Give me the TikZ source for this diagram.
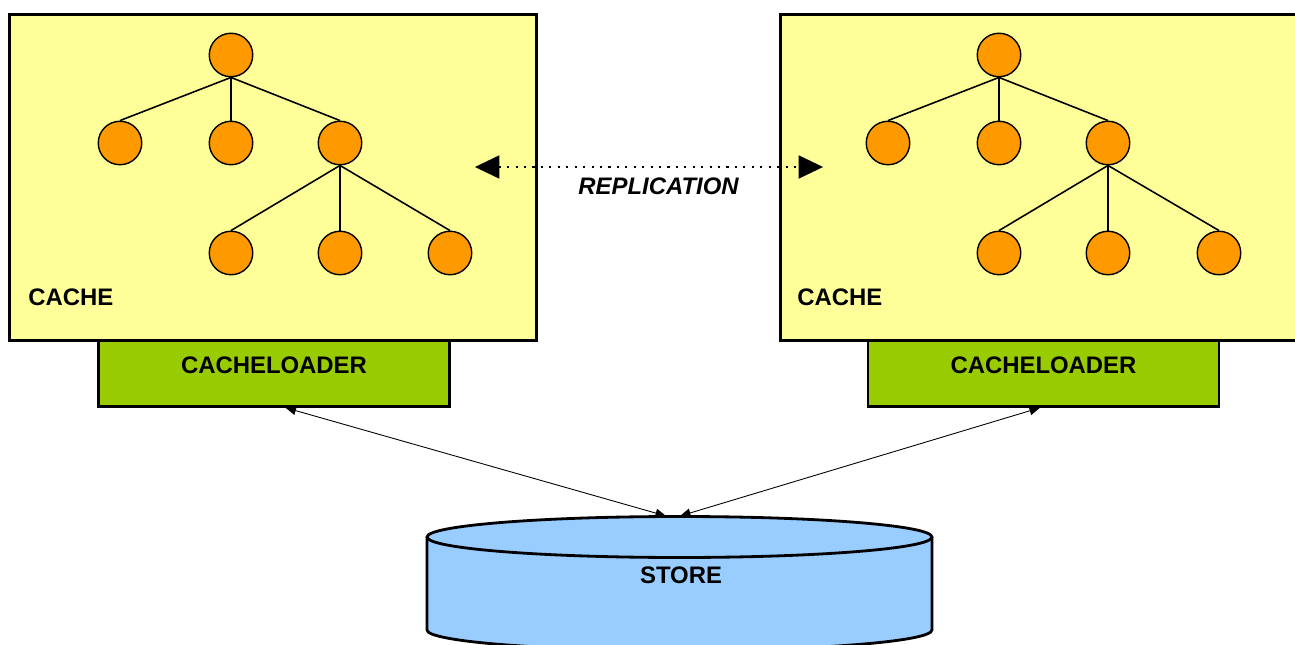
\documentclass[tikz,border=0pt]{standalone}
\usepackage{fontspec}
\setmainfont{Liberation Sans}
\usetikzlibrary{arrows.meta,positioning}
\definecolor{cacheyellow}{HTML}{FFFF99}
\definecolor{treeorange}{HTML}{FF9900}
\definecolor{loadergreen}{HTML}{99CC00}
\definecolor{storeblue}{HTML}{99CCFF}
\begin{document}
\begin{tikzpicture}[
  x=0.02cm, y=-0.02cm,
  lbl/.style={font=\fontsize{13.6}{16}\selectfont\bfseries, inner sep=0pt},
  cachebox/.style={draw, line width=1.6pt, fill=cacheyellow, minimum width=10.54cm, minimum height=6.52cm},
  loaderbox/.style={draw, line width=1.4pt, fill=loadergreen, minimum width=7.02cm, minimum height=1.32cm, lbl, text height=10pt, text depth=10pt},
  treenode/.style={circle, draw, line width=0.8pt, fill=treeorange, minimum size=0.87cm, inner sep=0pt},
  branch/.style={line width=0.9pt},
  link/.style={{Triangle[length=6pt,width=5pt]}-{Triangle[length=6pt,width=5pt]}, line width=0.5pt},
  repl/.style={{Triangle[length=14pt,width=13pt]}-{Triangle[length=14pt,width=13pt]}, line width=1.6pt, dash pattern=on 1.2pt off 3.6pt}
]
\useasboundingbox (0,0) rectangle (1295,645);

\node[loaderbox] (loaderL) at (274,373.5) {CACHELOADER};
\node[loaderbox] (loaderR) at (1043.5,373.5) {CACHELOADER};
\node[cachebox] (cacheL) at (273,177.5) {};
\node[cachebox] (cacheR) at (1044,177.5) {};
\node[lbl, anchor=west] (cacheTextL) at (28,297) {CACHE};
\node[lbl, anchor=west] (cacheTextR) at (797,297) {CACHE};

\node[treenode] (rootL) at (231,55) {};
\node[treenode] (aL1) at (120,143) {};
\node[treenode] (aL2) at (231,143) {};
\node[treenode] (aL3) at (340,143) {};
\node[treenode] (bL1) at (231,253) {};
\node[treenode] (bL2) at (340,253) {};
\node[treenode] (bL3) at (450,253) {};

\node[treenode] (rootR) at (999,55) {};
\node[treenode] (aR1) at (888,143) {};
\node[treenode] (aR2) at (999,143) {};
\node[treenode] (aR3) at (1108,143) {};
\node[treenode] (bR1) at (999,253) {};
\node[treenode] (bR2) at (1108,253) {};
\node[treenode] (bR3) at (1219,253) {};

\draw[branch] (rootL.south) -- (aL1.north);
\draw[branch] (rootL.south) -- (aL2.north);
\draw[branch] (rootL.south) -- (aL3.north);
\draw[branch] (aL3.south) -- (bL1.north);
\draw[branch] (aL3.south) -- (bL2.north);
\draw[branch] (aL3.south) -- (bL3.north);
\draw[branch] (rootR.south) -- (aR1.north);
\draw[branch] (rootR.south) -- (aR2.north);
\draw[branch] (rootR.south) -- (aR3.north);
\draw[branch] (aR3.south) -- (bR1.north);
\draw[branch] (aR3.south) -- (bR2.north);
\draw[branch] (aR3.south) -- (bR3.north);

\draw[repl, shorten <=-1.26cm, shorten >=-0.88cm] ([yshift=0.21cm]cacheL.east) -- ([yshift=0.21cm]cacheR.west)
  node[midway, lbl, font=\fontsize{13.6}{16}\selectfont\bfseries\itshape, yshift=-0.38cm] (replText) {REPLICATION};

\fill[storeblue] (427,537) -- (427,630) arc[start angle=180, end angle=360, x radius=5.05cm, y radius=0.41cm] -- (932,537) -- cycle;
\draw[line width=1.6pt] (427,537) -- (427,630) arc[start angle=180, end angle=360, x radius=5.05cm, y radius=0.41cm] -- (932,537);
\filldraw[fill=storeblue, line width=1.6pt] (679.5,537) ellipse [x radius=5.05cm, y radius=0.41cm];
\node[lbl] (store) at (681,575) {STORE};
\coordinate (storeTopL) at (666,516);
\coordinate (storeTopR) at (680,516);

\draw[link] ([xshift=0.23cm]loaderL.south) -- (storeTopL);
\draw[link] ([xshift=-0.07cm]loaderR.south) -- (storeTopR);
\end{tikzpicture}
\end{document}
